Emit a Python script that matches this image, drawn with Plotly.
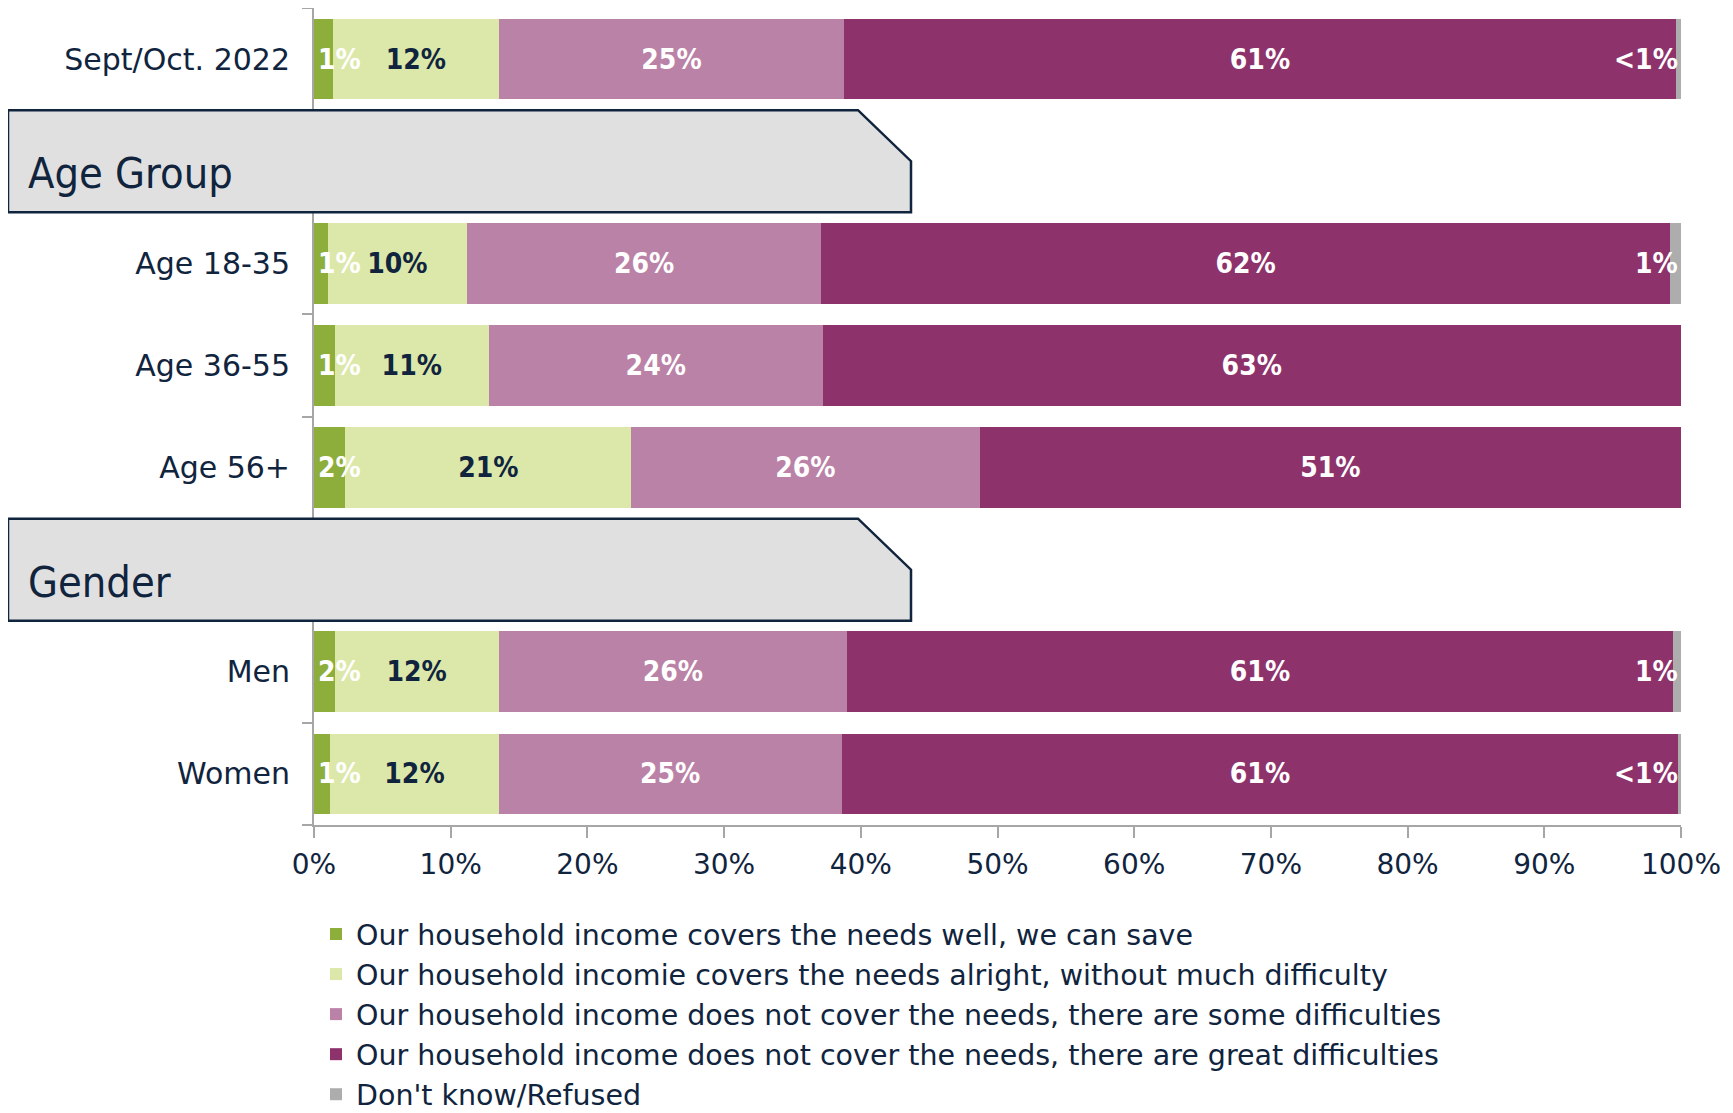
import plotly.graph_objects as go

categories = ["Sept/Oct. 2022", "Age Group", "Age 18-35", "Age 36-55", "Age 56+", "Gender", "Men", "Women"]
tick_labels = ["Sept/Oct. 2022", "", "Age 18-35", "Age 36-55", "Age 56+", "", "Men", "Women"]
section_headers = ["Age Group", "Gender"]

series_names = [
    "Our household income covers the needs well, we can save",
    "Our household incomie covers the needs alright, without much difficulty",
    "Our household income does not cover the needs, there are some difficulties",
    "Our household income does not cover the needs, there are great difficulties",
    "Don't know/Refused",
]

save_well = [1.4, None, 1.0, 1.5, 2.3, None, 1.5, 1.2]
alright = [12.1, None, 10.2, 11.3, 20.9, None, 12.0, 12.3]
some_diff = [25.3, None, 25.9, 24.4, 25.5, None, 25.5, 25.1]
great_diff = [60.8, None, 62.1, 62.8, 51.3, None, 60.4, 61.2]
dont_know = [0.4, None, 0.8, 0.0, 0.0, None, 0.6, 0.2]

save_well_lbl = ["1%", "", "1%", "1%", "2%", "", "2%", "1%"]
alright_lbl = ["12%", "", "10%", "11%", "21%", "", "12%", "12%"]
some_diff_lbl = ["25%", "", "26%", "24%", "26%", "", "26%", "25%"]
great_diff_lbl = ["61%", "", "62%", "63%", "51%", "", "61%", "61%"]
dont_know_lbl = ["<1%", "", "1%", "", "", "", "1%", "<1%"]

x_ticks = [0, 10, 20, 30, 40, 50, 60, 70, 80, 90, 100]

colors = ["#8DAE3B", "#DCE8A9", "#BB82A7", "#8E326C", "#ADADAD"]
label_colors = ["white", "#10243E", "white", "white", "white"]
# small segments get their labels as annotations (they overflow their bars)
inside_text = [False, True, True, True, False]

NAVY = "#10243E"
FONT_C = "DejaVu Sans Condensed, DejaVu Sans, sans-serif"
FONT = "DejaVu Sans, sans-serif"
LBL_SIZE = 28

values = [save_well, alright, some_diff, great_diff, dont_know]
labels = [save_well_lbl, alright_lbl, some_diff_lbl, great_diff_lbl, dont_know_lbl]

fig = go.Figure()
for name, vals, lbls, col, lcol, ins in zip(series_names, values, labels, colors, label_colors, inside_text):
    fig.add_trace(go.Bar(
        y=categories, x=vals, name=name, orientation="h",
        marker=dict(color=col, line=dict(width=0)),
        text=lbls if ins else None, textposition="inside" if ins else "none",
        insidetextanchor="middle", textangle=0,
        textfont=dict(color=lcol, size=LBL_SIZE, family=FONT_C, weight="bold"),
        hoverinfo="skip",
    ))

# page body has an 8px margin, so figure px = screen px - 8
OFF = 8
W, H = 1717, 1105
L, T = 314 - OFF, 8 - OFF
PR, PB = 1681 - OFF, 825 - OFF
R, B = W - PR, H - PB
pw, ph = PR - L, PB - T

def sx(px):
    return (px - OFF - L) / pw

def sy(py):
    return (PB - (py - OFF)) / ph

def esc(s):
    return s.replace("&", "&amp;").replace("<", "&lt;").replace(">", "&gt;")

shapes = []
annotations = []
for hdr in section_headers:
    i = categories.index(hdr)
    xl, xc, xr = sx(8), sx(858), sx(911)
    path = (f"M {xl},{i-0.5} L {xc},{i-0.5} L {xr},{i} L {xr},{i+0.5} "
            f"L {xl},{i+0.5} Z")
    shapes.append(dict(type="path", path=path, xref="paper", yref="y",
                       fillcolor="#E0E0E0", line=dict(color=NAVY, width=2.5),
                       layer="above"))
    annotations.append(dict(text=hdr, x=sx(26), y=i, xref="paper", yref="y",
                            xanchor="left", yanchor="middle", yshift=-12,
                            showarrow=False, font=dict(size=43, color=NAVY, family=FONT_C)))

# labels of the first (start-anchored) and last (end-anchored) segments
lbl_font = dict(size=LBL_SIZE, color="white", family=FONT_C, weight="bold")
for cat, v, t in zip(categories, save_well, save_well_lbl):
    if v is not None and t:
        annotations.append(dict(text=esc(t), x=0, y=cat, xref="x", yref="y", xanchor="left",
                                yanchor="middle", xshift=2, showarrow=False, font=lbl_font))
for k, (cat, t) in enumerate(zip(categories, dont_know_lbl)):
    if t:
        end = min(100.0, sum(s[k] for s in values if s[k] is not None))
        annotations.append(dict(text=esc(t), x=end, y=cat, xref="x", yref="y", xanchor="right",
                                yanchor="middle", xshift=-1, showarrow=False, font=lbl_font))

fig.update_layout(
    width=W, height=H,
    margin=dict(l=L, r=R, t=T, b=B, autoexpand=False),
    paper_bgcolor="white", plot_bgcolor="white",
    barmode="stack", bargap=0.21,
    font=dict(family=FONT, color=NAVY),
    uniformtext=dict(minsize=LBL_SIZE, mode="show"),
    shapes=shapes, annotations=annotations,
    showlegend=True,
    legend=dict(orientation="v", traceorder="normal", x=sx(316), xanchor="left",
                y=sy(909), yanchor="top",
                font=dict(size=28.5, color=NAVY, family=FONT),
                bgcolor="rgba(0,0,0,0)", itemclick=False, itemdoubleclick=False),
    xaxis=dict(range=[0, 100], tickvals=x_ticks, ticktext=[f"{v}%" for v in x_ticks],
               showgrid=False, zeroline=False, showline=True, linecolor="#A6A6A6",
               linewidth=2, ticks="outside", ticklen=11, tickwidth=1.5,
               tickcolor="#A6A6A6", ticklabelstandoff=2,
               tickfont=dict(size=28, color=NAVY, family=FONT)),
    yaxis=dict(type="category", categoryorder="array", categoryarray=categories,
               tickvals=categories, ticktext=tick_labels,
               range=[len(categories) - 0.5, -0.5], showgrid=False, zeroline=False,
               showline=True, linecolor="#A6A6A6", linewidth=2, ticks="outside",
               tickson="boundaries", ticklen=10, tickwidth=1.5, tickcolor="#A6A6A6",
               ticklabelstandoff=16,
               tickfont=dict(size=30, color=NAVY, family=FONT)),
)

fig.write_html("out.html")
